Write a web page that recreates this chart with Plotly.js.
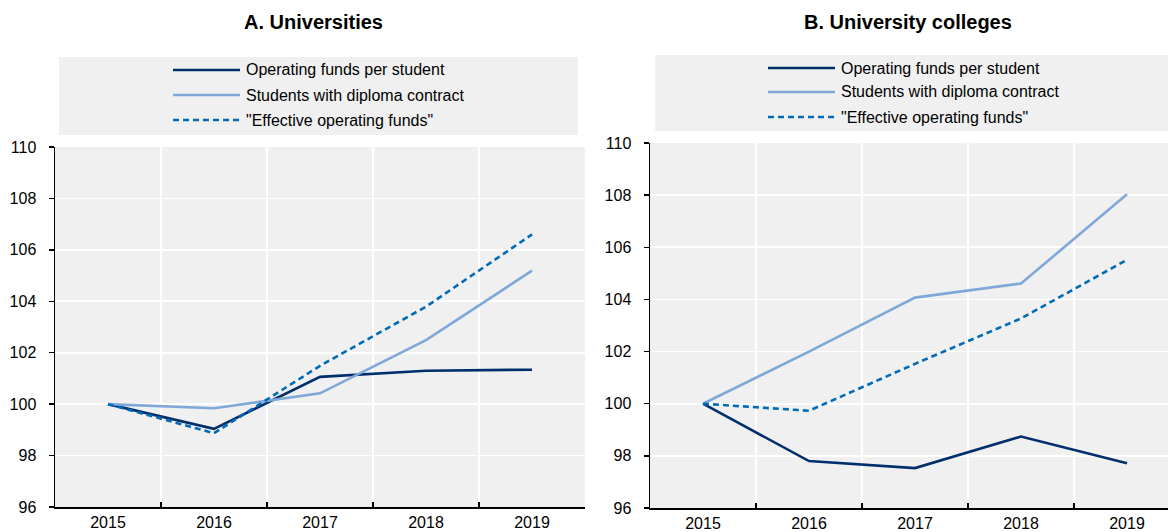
<!DOCTYPE html>
<html><head><meta charset="utf-8">
<script src="https://cdn.plot.ly/plotly-3.0.1.min.js"></script>
<style>html,body{margin:0;padding:0;background:#fff;}#chart{width:1168px;height:532px;}</style>
</head><body><div id="chart"></div>
<script>
const years = ['2015','2016','2017','2018','2019'];
const seriesNames = ['Operating funds per student','Students with diploma contract','"Effective operating funds"'];
const panelTitles = ['A. Universities','B. University colleges'];
// Panel A: Universities
const uniOperating = [100, 99.04, 101.06, 101.3, 101.34];
const uniStudents  = [100, 99.84, 100.42, 102.49, 105.19];
const uniEffective = [100, 98.87, 101.49, 103.79, 106.6];
// Panel B: University colleges
const colOperating = [100, 97.8, 97.53, 98.74, 97.72];
const colStudents  = [100, 102.0, 104.07, 104.61, 108.03];
const colEffective = [100, 99.73, 101.53, 103.27, 105.52];
const yTicks = [96, 98, 100, 102, 104, 106, 108, 110];

const W = 1168, H = 532;
const colors = ['#002F6C', '#7FA8D9', '#006BB6'];
const dashes = ['solid', 'solid', '6px,4px'];
const font = '"Liberation Sans", Arial, sans-serif';

function mk(y, i, xa, ya) {
  return {x: years, y: y, type: 'scatter', mode: 'lines', name: seriesNames[i],
    xaxis: xa, yaxis: ya, showlegend: false, hoverinfo: 'skip',
    line: {color: colors[i], width: 2.6, dash: dashes[i]}};
}
const data = [
  mk(uniOperating, 0, 'x', 'y'), mk(uniStudents, 1, 'x', 'y'), mk(uniEffective, 2, 'x', 'y'),
  mk(colOperating, 0, 'x2', 'y2'), mk(colStudents, 1, 'x2', 'y2'), mk(colEffective, 2, 'x2', 'y2')
];

function xax(domain, range) {
  return {type: 'category', domain: domain, range: range, tickson: 'boundaries',
    ticks: 'inside', ticklen: 5, tickcolor: '#000', tickwidth: 1.5,
    showgrid: true, gridcolor: '#ffffff', gridwidth: 1.8,
    showline: true, linecolor: '#000', linewidth: 1.5,
    tickfont: {family: font, size: 16, color: '#000'}, zeroline: false, fixedrange: true};
}
function yax(domain, anchor) {
  return {domain: domain, range: [96, 110], tickvals: yTicks, ticktext: yTicks.map(String),
    ticks: 'outside', ticklen: 5, tickcolor: '#000', tickwidth: 1.5, ticklabelstandoff: 9,
    showgrid: true, gridcolor: '#ffffff', gridwidth: 1.8, zeroline: false,
    showline: true, linecolor: '#000', linewidth: 1.5, anchor: anchor,
    tickfont: {family: font, size: 16, color: '#000'}, fixedrange: true};
}

const px = v => v / W, py = v => 1 - v / H;

const shapes = [];
const annotations = [];
const legendBoxes = [
  {x0: 59, x1: 578, y0: 57, y1: 135, lx0: 173, lx1: 240, tx: 244, rows: [70, 95, 120]},
  {x0: 655, x1: 1168, y0: 55, y1: 131, lx0: 768, lx1: 835, tx: 839, rows: [68, 92, 117]}
];
legendBoxes.forEach(b => {
  shapes.push({type: 'rect', xref: 'paper', yref: 'paper', x0: px(b.x0), x1: px(b.x1),
    y0: py(b.y1), y1: py(b.y0), fillcolor: '#F0F0F0', line: {width: 0}, layer: 'below'});
  seriesNames.forEach((n, i) => {
    shapes.push({type: 'line', xref: 'paper', yref: 'paper', x0: px(b.lx0), x1: px(b.lx1),
      y0: py(b.rows[i]), y1: py(b.rows[i]), line: {color: colors[i], width: 2.6, dash: dashes[i]}});
    annotations.push({xref: 'paper', yref: 'paper', x: px(b.tx), y: py(b.rows[i]), text: n,
      showarrow: false, xanchor: 'left', yanchor: 'middle',
      font: {family: font, size: 16, color: '#000'}});
  });
});
annotations.push({xref: 'paper', yref: 'paper', x: px(313), y: py(22), text: '<b>' + panelTitles[0] + '</b>',
  showarrow: false, xanchor: 'center', yanchor: 'middle', font: {family: font, size: 20, color: '#000'}});
annotations.push({xref: 'paper', yref: 'paper', x: px(908), y: py(22), text: '<b>' + panelTitles[1] + '</b>',
  showarrow: false, xanchor: 'center', yanchor: 'middle', font: {family: font, size: 20, color: '#000'}});

const layout = {
  width: W, height: H, margin: {l: 0, r: 0, t: 0, b: 0},
  paper_bgcolor: '#ffffff', plot_bgcolor: '#F0F0F0',
  showlegend: false,
  xaxis: xax([px(55), px(585)], [-0.5, 4.5]),
  yaxis: yax([1 - 507 / H, 1 - 147 / H], 'x'),
  xaxis2: xax([px(650), 1], [-0.5, (1168 - 703) / 106]),
  yaxis2: yax([1 - 508 / H, 1 - 143 / H], 'x2'),
  shapes: shapes, annotations: annotations
};
layout.xaxis.anchor = 'y';
layout.xaxis2.anchor = 'y2';
Plotly.newPlot('chart', data, layout, {displayModeBar: false, staticPlot: true});
</script></body></html>
